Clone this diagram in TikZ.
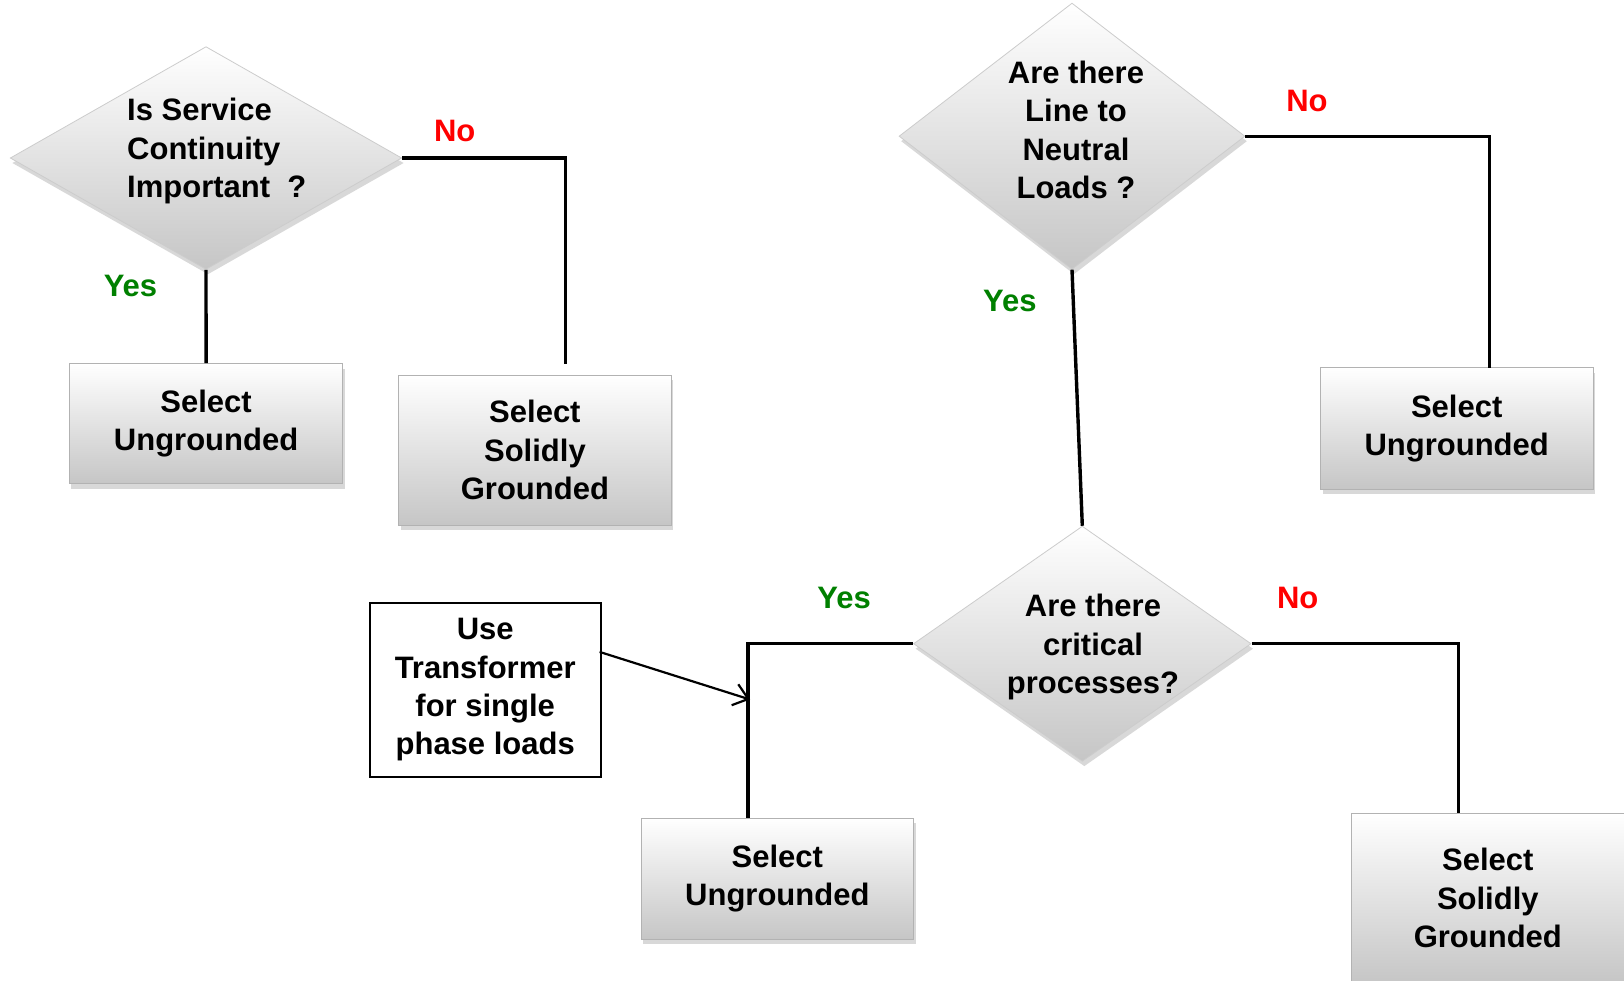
\documentclass[tikz,border=0pt]{standalone}
\usepackage{fontspec}
\setmainfont{Liberation Sans}
\usetikzlibrary{shapes.geometric,shadows,arrows.meta,calc}
\definecolor{yesgreen}{RGB}{0,128,0}
\definecolor{nored}{RGB}{255,0,0}
\begin{document}
\begin{tikzpicture}[x=1pt,y=-1pt,
  txt/.style={font=\fontsize{31}{38.3}\selectfont\bfseries, align=center, inner sep=0pt},
  decision/.style={diamond, draw=gray!40, line width=0.8pt, inner sep=0pt,
    top color=white, middle color=gray!14, bottom color=gray!45,
    drop shadow={shadow xshift=2pt, shadow yshift=-5pt, opacity=0.3, fill=gray}},
  result/.style={rectangle, draw=gray!60, line width=0.8pt, txt,
    top color=white, middle color=gray!10, bottom color=gray!45,
    drop shadow={shadow xshift=2pt, shadow yshift=-5pt, opacity=0.3, fill=gray}},
  note/.style={rectangle, draw=black, line width=1.8pt, fill=white, txt},
  link/.style={line width=3.4pt},
  yes/.style={txt, text=yesgreen},
  no/.style={txt, text=nored}
]
\useasboundingbox (0,0) rectangle (1624,980);
\fill[white] (0,0) rectangle (1624,980);

% decisions
\node[decision, minimum width=391.5pt, minimum height=222.7pt] (d1) at (206,158) {};
\node[decision, minimum width=345.9pt, minimum height=266.2pt] (d2) at (1072,136.2) {};
\node[decision, minimum width=337.6pt, minimum height=235.1pt] (d3) at (1082.3,643.7) {};

\node[txt, align=left, anchor=west] (t1) at (127,151) {Is Service\\Continuity\\Important~~?};
\node[txt] (t2) at (1076,130) {Are there\\Line to\\Neutral\\Loads ?};
\node[txt] (t3) at (1093,647) {Are there\\critical\\processes?};

% results
\node[result, minimum width=273.4pt, minimum height=120.2pt] (ra) at (206.1,423.6) {Select\\Ungrounded};
\node[result, minimum width=272.4pt, minimum height=150.2pt] (rb) at (534.9,450) {Select\\Solidly\\Grounded};
\node[result, minimum width=272.4pt, minimum height=121.2pt] (rc) at (1456.7,428.3) {Select\\Ungrounded};
\node[result, minimum width=272.4pt, minimum height=121.2pt] (rd) at (777.3,878.8) {Select\\Ungrounded};
\node[result, minimum width=272.4pt, minimum height=170pt] (re) at (1487.8,898) {Select\\Solidly\\Grounded};

% note
\node[note, minimum width=231pt, minimum height=174pt] (nf) at (485.2,689.8) {Use\\Transformer\\for single\\phase loads};

% labels
\node[yes] (y1) at (130.5,286) {Yes};
\node[no]  (n1) at (454.7,130.5) {No};
\node[no]  (n2) at (1307,100.5) {No};
\node[yes] (y2) at (1009.8,301.4) {Yes};
\node[yes] (y3) at (844.1,597.6) {Yes};
\node[no]  (n3) at (1297.7,597.6) {No};

% connector end points
\coordinate (eb) at (565.5,363.5);
\coordinate (ec) at (1489.3,367.7);
\coordinate (ed) at (747.8,818.2);
\coordinate (ee) at (1458.3,813);
\coordinate (arrowtip) at (750,699.5);

% connectors
\draw[link] (d1.south) -- (ra.north);
\draw[link] (d1.east) -| (eb);
\draw[link] (d2.east) -| (ec);
\draw[link] (d2.south) -- (d3.north);
\draw[link] (d3.west) -| (ed);
\draw[link] (d3.east) -| (ee);
\draw[line width=2.2pt, -{Straight Barb[length=14pt, width=22pt, line width=2.2pt]}]
  ($(nf.north east)+(-2,50)$) -- (arrowtip);
\end{tikzpicture}
\end{document}
